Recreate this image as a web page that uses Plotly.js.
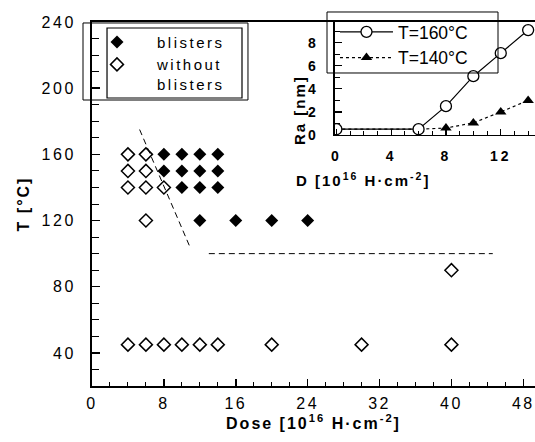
<!DOCTYPE html>
<html><head><meta charset="utf-8">
<script src="https://cdn.plot.ly/plotly-3.0.1.min.js"></script>
<style>
body{margin:0;background:#fff;}
.xtick text, .ytick text {letter-spacing:2.5px;}
.x2tick text, .y2tick text {letter-spacing:3px; font-weight:bold !important;}
.xtitle, .ytitle {letter-spacing:2px;}
.legendtext {letter-spacing:2.5px;}
.annotation text {letter-spacing:2px;}
</style>
</head><body>
<div id="chart" style="width:535px;height:442px"></div>
<script>
// Main chart: dose [1e16 H/cm2] vs temperature [°C]
const blistersDose = [8, 10, 12, 14, 8, 10, 12, 14, 10, 12, 14, 12, 16, 20, 24];
const blistersT    = [160, 160, 160, 160, 150, 150, 150, 150, 140, 140, 140, 120, 120, 120, 120];
const noBlistersDose = [4, 6, 4, 6, 4, 6, 8, 6, 40, 4, 6, 8, 10, 12, 14, 20, 30, 40];
const noBlistersT    = [160, 160, 150, 150, 140, 140, 140, 120, 90, 45, 45, 45, 45, 45, 45, 45, 45, 45];
// Boundary (dashed) lines
const boundaryADose = [5.3, 10.9];
const boundaryAT    = [175, 104];
const boundaryBDose = [13, 44.6];
const boundaryBT    = [100, 100];
// Inset: roughness Ra [nm] vs dose D
const insetD = [0, 6, 8, 10, 12, 14];
const ra160  = [0.5, 0.5, 2.5, 5.1, 7.1, 9.1];
const ra140  = [0.5, 0.5, 0.6, 1.05, 2.0, 3.0];
// Tick labels
const mainXTicks = [0, 8, 16, 24, 32, 40, 48];
const mainYTicks = [40, 80, 120, 160, 200, 240];
const insetXTicks = [0, 4, 8, 12];
const insetYTicks = [0, 2, 4, 6, 8];

const traces = [
  {x: blistersDose, y: blistersT, mode: 'markers', name: 'blisters', legend: 'legend',
   marker: {symbol: 'diamond', size: 10, color: 'black'}},
  {x: noBlistersDose, y: noBlistersT, mode: 'markers', name: 'without<br>blisters', legend: 'legend',
   marker: {symbol: 'diamond-open', size: 10, color: 'black', line: {width: 1.5, color: 'black'}}},
  {x: boundaryADose, y: boundaryAT, mode: 'lines', showlegend: false,
   line: {color: 'black', width: 1, dash: '6px,4px'}},
  {x: boundaryBDose, y: boundaryBT, mode: 'lines', showlegend: false,
   line: {color: 'black', width: 1, dash: '6px,4px'}},
  {x: insetD, y: ra140, xaxis: 'x2', yaxis: 'y2', mode: 'lines+markers', name: 'T=140°C', legend: 'legend2',
   line: {color: 'black', width: 1.2, dash: 'dot'},
   marker: {symbol: 'triangle-up', size: 10, color: 'black'}},
  {x: insetD, y: ra160, xaxis: 'x2', yaxis: 'y2', mode: 'lines+markers', name: 'T=160°C', legend: 'legend2',
   line: {color: 'black', width: 1.2},
   marker: {symbol: 'circle', size: 11, color: 'white', line: {width: 1.3, color: 'black'}}}
];

const tickFontMain = {family: 'Liberation Sans, Arial, sans-serif', size: 16, color: 'black'};
const tickFontInset = {family: 'Liberation Sans Narrow, Liberation Sans, Arial, sans-serif', size: 14, color: 'black', weight: 700};

const layout = {
  width: 535, height: 442,
  margin: {l: 92, r: 0, t: 22, b: 56},
  paper_bgcolor: 'white', plot_bgcolor: 'rgba(0,0,0,0)',
  font: {family: 'Liberation Sans, Arial, sans-serif', color: 'black', size: 16},
  showlegend: true,
  xaxis: {
    domain: [0, 1], range: [0, 49.3], tickvals: mainXTicks, ticktext: mainXTicks.map(String),
    ticks: 'inside', ticklen: 7, tickwidth: 1.5, tickcolor: 'black',
    minor: {dtick: 2, tick0: 0, ticks: 'inside', ticklen: 4, tickwidth: 1, tickcolor: 'black'},
    showline: true, linewidth: 2, linecolor: 'black', mirror: true,
    showgrid: false, zeroline: false, tickfont: tickFontMain, ticklabelstandoff: 2,
    title: {text: '<b>Dose [10<sup>16</sup> H·cm<sup>-2</sup>]</b>', font: {size: 16}, standoff: 6}
  },
  yaxis: {
    domain: [0, 1], range: [20, 240], tickvals: mainYTicks, ticktext: mainYTicks.map(String),
    ticks: 'inside', ticklen: 8, tickwidth: 1.5, tickcolor: 'black',
    minor: {dtick: 10, tick0: 0, ticks: 'inside', ticklen: 7, tickwidth: 1, tickcolor: 'black'},
    showline: true, linewidth: 2, linecolor: 'black',
    showgrid: false, zeroline: false, tickfont: tickFontMain, ticklabelstandoff: 11,
    title: {text: '<b>T [°C]</b>', font: {size: 16}, standoff: 8}
  },
  xaxis2: {
    domain: [0.5485, 1], anchor: 'y2', range: [-0.1, 14.5],
    tickvals: insetXTicks, ticktext: insetXTicks.map(String),
    ticks: 'inside', ticklen: 6, tickwidth: 1.2, tickcolor: 'black',
    minor: {dtick: 1, tick0: 0, ticks: 'inside', ticklen: 4, tickwidth: 1, tickcolor: 'black'},
    showline: true, linewidth: 1.5, linecolor: 'black',
    showgrid: false, zeroline: false, tickfont: tickFontInset, ticklabelstandoff: 8
  },
  yaxis2: {
    domain: [0.6896, 1], anchor: 'x2', range: [0, 9.8],
    tickvals: insetYTicks, ticktext: insetYTicks.map(String),
    ticks: 'inside', ticklen: 7, tickwidth: 1.2, tickcolor: 'black',
    minor: {dtick: 1, tick0: 0, ticks: 'inside', ticklen: 5, tickwidth: 1, tickcolor: 'black'},
    showline: true, linewidth: 1.5, linecolor: 'black',
    showgrid: false, zeroline: false, tickfont: tickFontInset, ticklabelstandoff: 12
  },
  legend: {
    x: -0.0339, xanchor: 'left', y: 0.99, yanchor: 'top', valign: 'top',
    bgcolor: 'rgba(0,0,0,0)', borderwidth: 0, itemwidth: 70,
    font: {size: 15, color: 'black'}
  },
  legend2: {
    x: 0.5485, xanchor: 'left', y: 1.022, yanchor: 'top',
    bgcolor: 'rgba(0,0,0,0)', borderwidth: 0, itemwidth: 53, traceorder: 'reversed',
    font: {size: 17.5, color: 'black'}
  },
  shapes: [
    {type: 'rect', xref: 'paper', yref: 'paper', x0: -0.0203, x1: 0.3521, y0: 0.7857, y1: 0.9973,
     line: {color: 'black', width: 1}},
    {type: 'rect', xref: 'paper', yref: 'paper', x0: 0.0339, x1: 0.3386, y0: 0.7912, y1: 0.9835,
     line: {color: 'black', width: 1.2}},
    {type: 'rect', xref: 'paper', yref: 'paper', x0: 0.5305, x1: 0.9165, y0: 0.8599, y1: 1.0275,
     line: {color: 'black', width: 1}}
  ],
  annotations: [
    {text: '<b>Ra [nm]</b>', xref: 'paper', yref: 'paper', x: 0.4695, y: 0.8407,
     textangle: -90, showarrow: false, font: {size: 15, family: 'Liberation Sans, Arial, sans-serif'}},
    {text: '<b>D [10<sup>16</sup> H·cm<sup>-2</sup>]</b>', xref: 'paper', yref: 'paper', x: 0.7336, y: 0.566,
     showarrow: false, font: {size: 15, family: 'Liberation Sans, Arial, sans-serif'}}
  ]
};

Plotly.newPlot('chart', traces, layout, {displayModeBar: false, staticPlot: true});
</script>
</body></html>
